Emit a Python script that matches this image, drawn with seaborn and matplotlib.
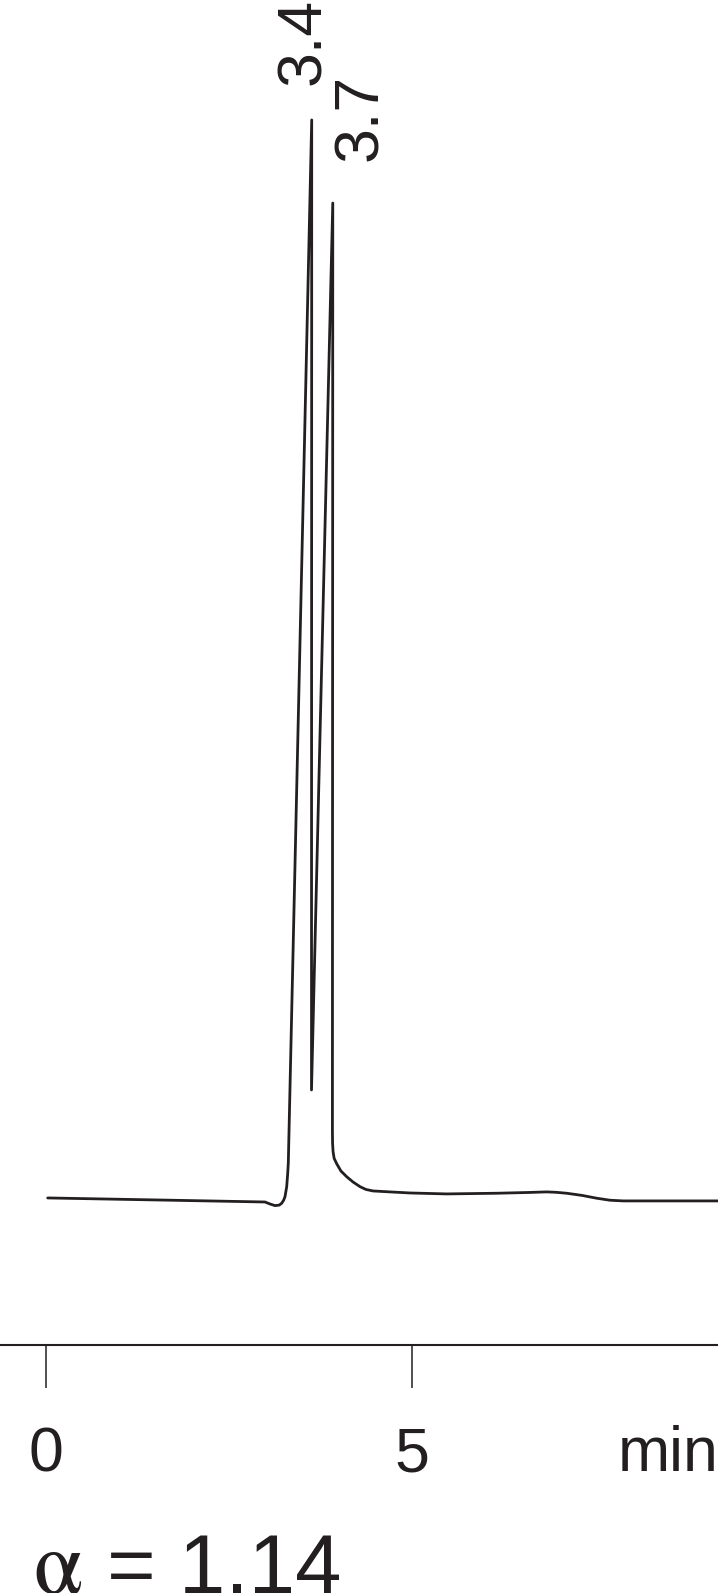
import numpy as np
import pandas as pd
import matplotlib
matplotlib.use("Agg")
import matplotlib.pyplot as plt
import seaborn as sns

# ---- data ----
time_min = [0.023, 1.422, 2.994, 3.063, 3.131, 3.190, 3.223, 3.250, 3.268, 3.291, 3.305, 3.313,
            3.633, 3.630, 3.921, 3.916, 3.918, 3.925, 3.940, 3.975, 4.033, 4.111, 4.197, 4.293,
            4.375, 4.471, 4.703, 4.977, 5.478, 6.162, 6.617, 6.846, 6.973, 7.119,
            7.328, 7.529, 7.711, 7.893, 9.300]
signal = [10.91, 10.77, 10.61, 10.46, 10.34, 10.38, 10.52, 10.75, 11.01, 11.75, 12.77, 13.51,
          91.08, 18.94, 84.90, 16.00, 15.00, 14.35, 13.85, 13.45, 12.91, 12.49, 12.10, 11.75,
          11.54, 11.43, 11.36, 11.28, 11.21, 11.26, 11.32, 11.36, 11.33, 11.26,
          11.10, 10.89, 10.74, 10.69, 10.69]

peak_labels = ["3.4", "3.7"]
peak_label_x = [3.746, 4.521]
peak_label_y = [93.71, 88.06]

tick_values = [0, 5]
tick_labels = ["0", "5"]
unit_label = "min"
alpha_value = "1.14"

df = pd.DataFrame({"time": time_min, "signal": signal})

sns.set_theme(style="white")
plt.rcParams["font.family"] = ["Liberation Sans", "DejaVu Sans"]

ink = "#231f20"

fig = plt.figure(figsize=(7.18, 15.93), dpi=100)
ax = fig.add_axes([0.0, 0.1559, 1.0, 0.8441])

sns.lineplot(data=df, x="time", y="signal", sort=False, estimator=None,
             color=ink, linewidth=2.0, ax=ax)

ax.set_xlim(-0.629, 9.188)
ax.set_ylim(0, 100)

ax.set_xticks(tick_values)
ax.set_xticklabels(tick_labels)
ax.set_yticks([])
ax.set_xlabel("")
ax.set_ylabel("")
ax.tick_params(axis="x", direction="out", length=31, width=1.1, color=ink,
               pad=27, labelsize=45, labelcolor=ink, bottom=True)
for lab in ax.get_xticklabels():
    lab.set_fontfamily(["Liberation Sans", "DejaVu Sans"])

for side in ["left", "right", "top"]:
    ax.spines[side].set_visible(False)
ax.spines["bottom"].set_color(ink)
ax.spines["bottom"].set_linewidth(1.5)
ax.patch.set_alpha(0)

for lab, lx, ly in zip(peak_labels, peak_label_x, peak_label_y):
    ax.text(lx, ly, lab, rotation=90, rotation_mode="anchor",
            ha="left", va="baseline", fontsize=45, color=ink,
            clip_on=False)

ax.text(7.816, -0.0939, unit_label, transform=ax.get_xaxis_transform(),
        ha="left", va="baseline", fontsize=45, color=ink, clip_on=False)

fig.text(33 / 718, 0.0, "\u03b1", ha="left", va="baseline", fontsize=64,
         color=ink, family=["STIXGeneral", "Liberation Serif", "DejaVu Serif"])
fig.text(107.5 / 718, 0.0, "= " + alpha_value, ha="left", va="baseline",
         fontsize=60, color=ink, family=["Liberation Sans", "DejaVu Sans"])

fig.savefig("out.png", dpi=100)
